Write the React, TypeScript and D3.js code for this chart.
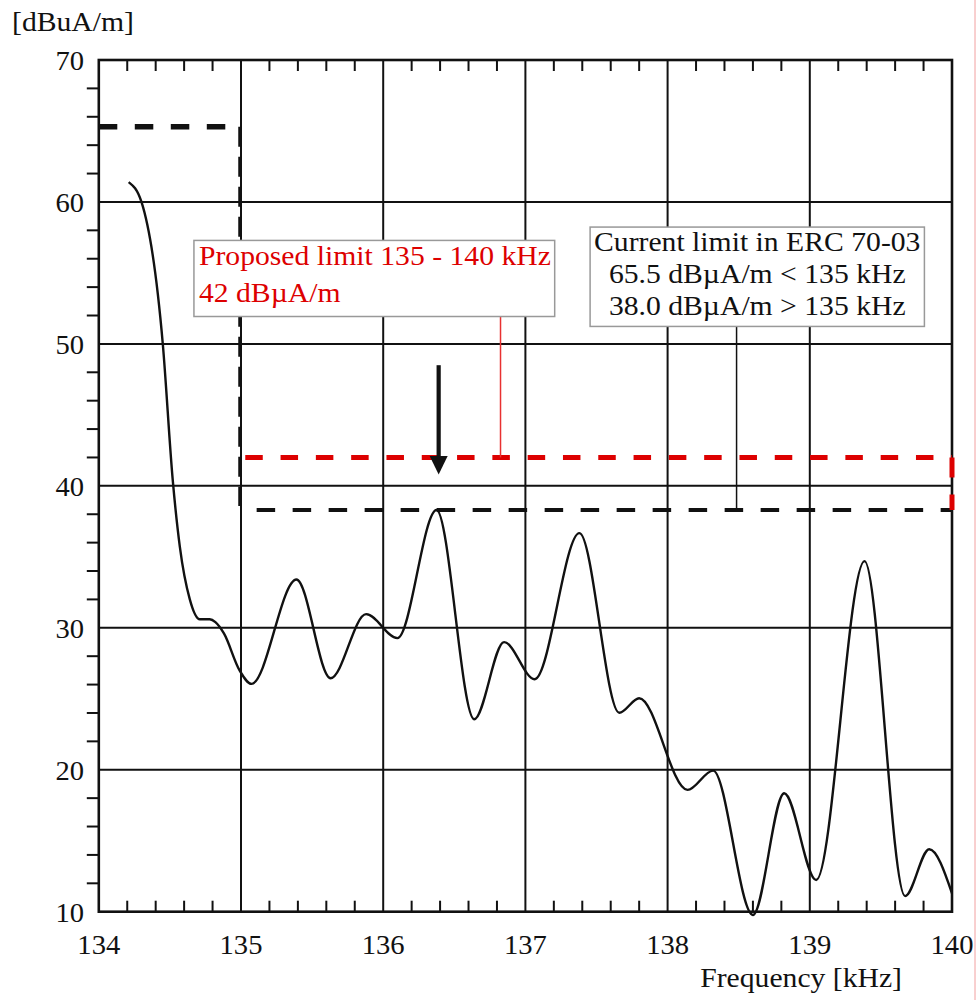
import * as d3 from 'd3'

const freq = [
  134.21, 134.3, 134.45, 134.52, 134.57, 134.64, 134.71, 134.78, 134.82, 134.88, 134.99, 135.074,
  135.39, 135.63, 135.88, 136.1, 136.375, 136.64, 136.85, 137.065, 137.38, 137.66, 137.8,
  138.14, 138.32, 138.6, 138.82, 139.045, 139.385, 139.67, 139.84, 140.0,
]
const level = [
  61.4, 60.0, 50.0, 40.4, 35.7, 32.0, 30.6, 30.6, 30.4, 29.6, 27.0, 26.05,
  33.4, 26.45, 30.96, 29.27, 38.3, 23.56, 28.99, 26.38, 36.67, 24.02, 25.04,
  18.58, 19.94, 9.77, 18.34, 12.23, 34.7, 11.1, 14.4, 11.3,
]

const xTicks = [134, 135, 136, 137, 138, 139, 140]
const yTicks = [10, 20, 30, 40, 50, 60, 70]
const xMinor = d3.range(134, 140.001, 0.2)
const yMinor = d3.range(10, 70.001, 2)

const limitLow = 65.3 // current limit < 135 kHz (as drawn)
const limitHigh = 38.3 // current limit > 135 kHz (as drawn)
const proposed = 42

const proposedText = ['Proposed limit 135 - 140 kHz', '42 dBµA/m']
const currentText = ['Current limit in ERC 70-03', '65.5 dBµA/m < 135 kHz', '38.0 dBµA/m > 135 kHz']

const W = 977
const H = 1000
const FONT = '"Liberation Serif", "Times New Roman", serif'
const RED = '#dd0000'

const x = d3.scaleLinear().domain([134, 140]).range([98.8, 952])
const y = d3.scaleLinear().domain([10, 70]).range([911.7, 60])

function Txt({ tx, ty, size = 28, anchor = 'start', fill = '#111', sx = 1.06, children }: any) {
  return (
    <text
      transform={`translate(${tx},${ty}) scale(${sx},1)`}
      fontSize={size}
      fontFamily={FONT}
      textAnchor={anchor}
      fill={fill}
    >
      {children}
    </text>
  )
}

export default function App() {
  const line = d3
    .line<number>()
    .x((_, i) => x(freq[i]))
    .y((d) => y(d))
    .curve(d3.curveMonotoneX)

  const [x0, x1] = x.range()
  const [yb, yt] = y.range()

  // annotation boxes in data coordinates
  const pBox = { f0: 134.669, f1: 137.206, v0: 57.29, v1: 51.93 }
  const cBox = { f0: 137.455, f1: 139.806, v0: 58.23, v1: 51.23 }
  const arrowF = 136.39

  return (
    <svg
      width={W}
      height={H}
      style={{ position: 'absolute', left: 0, top: 0, background: '#fff' }}
    >
      <rect x={0} y={0} width={W} height={H} fill="#fff" />

      {/* grid */}
      {xTicks.slice(1, -1).map((t) => (
        <line key={'gx' + t} x1={x(t)} x2={x(t)} y1={yt} y2={yb} stroke="#111" strokeWidth={2} />
      ))}
      {yTicks.slice(1, -1).map((t) => (
        <line key={'gy' + t} x1={x0} x2={x1} y1={y(t)} y2={y(t)} stroke="#111" strokeWidth={2} />
      ))}

      {/* minor ticks */}
      {xMinor.map((t, i) =>
        i % 5 === 0 ? null : (
          <g key={'mx' + i}>
            <line x1={x(t)} x2={x(t)} y1={yt} y2={yt + 11} stroke="#111" strokeWidth={2} />
            <line x1={x(t)} x2={x(t)} y1={yb} y2={yb - 11} stroke="#111" strokeWidth={2} />
          </g>
        ),
      )}
      {yMinor.map((t, i) =>
        i % 5 === 0 ? null : (
          <line key={'my' + i} x1={x0 - 12} x2={x0} y1={y(t)} y2={y(t)} stroke="#111" strokeWidth={2} />
        ),
      )}

      {/* frame */}
      <rect x={x0} y={yt} width={x1 - x0} height={yb - yt} fill="none" stroke="#111" strokeWidth={2.6} />

      {/* current limit (black dashed) */}
      <line x1={x(134)} x2={x(134.9)} y1={y(limitLow)} y2={y(limitLow)} stroke="#111" strokeWidth={5.5} strokeDasharray="18.5 17.5" />
      <line x1={x(135) - 1.5} x2={x(135) - 1.5} y1={y(limitLow)} y2={y(limitHigh) - 4} stroke="#111" strokeWidth={2.5} strokeDasharray="20 10" />
      <line x1={x(135.11)} x2={x(140)} y1={y(limitHigh)} y2={y(limitHigh)} stroke="#111" strokeWidth={3.8} strokeDasharray="18.5 17.5" />

      {/* proposed limit (red dashed) */}
      <line x1={x(135.03)} x2={x(140)} y1={y(proposed)} y2={y(proposed)} stroke={RED} strokeWidth={5} strokeDasharray="17.5 17.8" />
      <line x1={x(140)} x2={x(140)} y1={y(proposed)} y2={y(limitHigh)} stroke={RED} strokeWidth={5} strokeDasharray="20 17" />

      {/* measured curve */}
      <path d={line(level) || ''} fill="none" stroke="#111" strokeWidth={2.4} />

      {/* leader lines */}
      <line x1={x(136.825)} x2={x(136.825)} y1={y(pBox.v1)} y2={y(proposed)} stroke="#e83030" strokeWidth={1.5} />
      <line x1={x(138.485)} x2={x(138.485)} y1={y(cBox.v1)} y2={y(limitHigh)} stroke="#111" strokeWidth={1.5} />

      {/* arrow */}
      <line x1={x(arrowF)} x2={x(arrowF)} y1={y(48.5)} y2={y(41.9)} stroke="#111" strokeWidth={4.2} />
      <path
        d={`M${x(arrowF) - 9},${y(42.1)} L${x(arrowF) + 9},${y(42.1)} L${x(arrowF)},${y(40.8)} Z`}
        fill="#111"
      />

      {/* proposed limit box */}
      <rect
        x={x(pBox.f0)}
        y={y(pBox.v0)}
        width={x(pBox.f1) - x(pBox.f0)}
        height={y(pBox.v1) - y(pBox.v0)}
        fill="#fff"
        stroke="#999"
        strokeWidth={1.5}
      />
      {proposedText.map((t, i) => (
        <Txt key={t} tx={x(pBox.f0) + 5} ty={y(pBox.v0) + 24.5 + i * 36.7} fill={RED}>
          {t}
        </Txt>
      ))}

      {/* current limit box */}
      <rect
        x={x(cBox.f0)}
        y={y(cBox.v0)}
        width={x(cBox.f1) - x(cBox.f0)}
        height={y(cBox.v1) - y(cBox.v0)}
        fill="#fff"
        stroke="#999"
        strokeWidth={1.5}
      />
      {currentText.map((t, i) => (
        <Txt key={t} tx={(x(cBox.f0) + x(cBox.f1)) / 2} ty={y(cBox.v0) + 23.5 + i * 32.2} anchor="middle">
          {t}
        </Txt>
      ))}

      {/* tick labels */}
      {yTicks.map((t) => (
        <Txt key={'yl' + t} tx={84} ty={y(t) + 10} size={27} anchor="end">
          {t}
        </Txt>
      ))}
      {xTicks.map((t) => (
        <Txt key={'xl' + t} tx={x(t)} ty={954} size={27} anchor="middle">
          {t}
        </Txt>
      ))}

      {/* axis titles */}
      <Txt tx={12} ty={31}>[dBuA/m]</Txt>
      <Txt tx={902} ty={987} anchor="end">Frequency [kHz]</Txt>

      {/* image border */}
      <line x1={975} x2={975} y1={0} y2={H} stroke="#f2a0a0" strokeWidth={1} />
    </svg>
  )
}
